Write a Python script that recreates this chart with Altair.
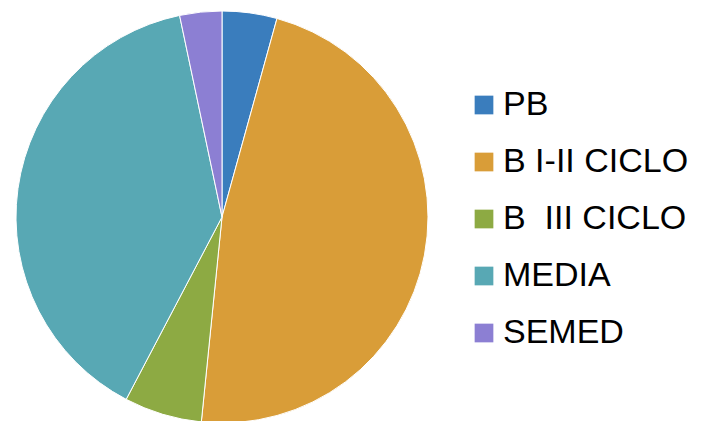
import altair as alt
import pandas as pd

categories = ["PB", "B I-II CICLO", "B\u00a0\u00a0III CICLO", "MEDIA", "SEMED"]
values = [4.3, 47.3, 6.1, 39.0, 3.3]
colors = ["#3A7DBD", "#D99D38", "#8DAA43", "#58A8B4", "#8C7FD3"]
order = [0, 1, 2, 3, 4]

df = pd.DataFrame({"cat": categories, "val": values, "ord": order})

chart = alt.Chart(df).mark_arc(radius=206, stroke="white", strokeWidth=1).encode(
    theta=alt.Theta("val:Q", stack=True),
    order=alt.Order("ord:Q"),
    color=alt.Color(
        "cat:N",
        scale=alt.Scale(domain=categories, range=colors),
        legend=alt.Legend(
            title=None,
            orient="none",
            legendX=459,
            legendY=80,
            symbolType="square",
            symbolSize=350,
            symbolStrokeWidth=0,
            labelFontSize=34,
            labelFont="Liberation Sans",
            labelColor="#000000",
            labelOffset=2,
            rowPadding=23,
            labelLimit=400,
        ),
    ),
    x=alt.value(214),
    y=alt.value(209),
).properties(
    width=691, height=420, padding=0, autosize=alt.AutoSizeParams(type="none")
).configure_view(stroke=None)

chart.save("out.html", embed_options={"renderer": "svg", "actions": False})
